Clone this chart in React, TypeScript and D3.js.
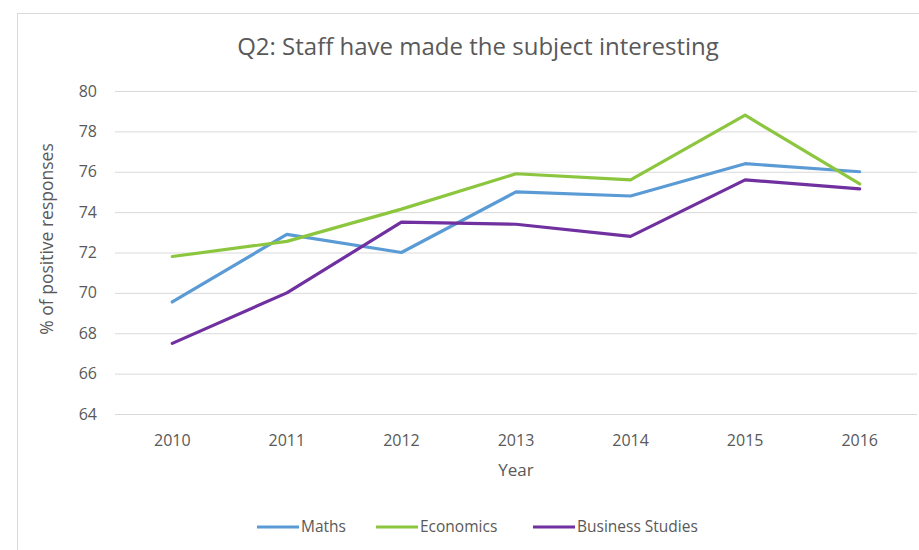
import React, { useEffect, useRef } from "react";
import * as d3 from "d3";

const years = ["2010", "2011", "2012", "2013", "2014", "2015", "2016"];
const maths = [69.55, 72.9, 72.0, 75.0, 74.8, 76.4, 76.0];
const economics = [71.8, 72.55, 74.15, 75.9, 75.6, 78.8, 75.4];
const business = [67.5, 70.0, 73.5, 73.4, 72.8, 75.6, 75.15];
const yTicks = [64, 66, 68, 70, 72, 74, 76, 78, 80];
const seriesNames = ["Maths", "Economics", "Business Studies"];
const seriesColors = ["#5B9BD5", "#8CC63F", "#7030A0"];

const W = 919;
const H = 550;
const FONT = "'Open Sans', 'Liberation Sans', sans-serif";

export default function App() {
  const ref = useRef<SVGSVGElement>(null);
  useEffect(() => {
    const svg = d3.select(ref.current);
    svg.selectAll("*").remove();
    svg.append("rect").attr("width", W).attr("height", H).attr("fill", "#fff");
    svg.append("rect").attr("x", 17.5).attr("y", 13.5).attr("width", W).attr("height", H)
      .attr("fill", "#fff").attr("stroke", "#d9d9d9").attr("stroke-width", 1);

    const x = d3.scaleBand<string>().domain(years).range([115, 917]);
    const y = d3.scaleLinear().domain([64, 80]).range([414, 91]);

    const g = svg.append("g");
    g.selectAll("line.grid").data(yTicks).enter().append("line")
      .attr("x1", 115).attr("x2", 917)
      .attr("y1", d => y(d) + 0.5).attr("y2", d => y(d) + 0.5)
      .attr("stroke", "#d9d9d9").attr("stroke-width", 1);

    g.selectAll("text.yt").data(yTicks).enter().append("text")
      .attr("x", 97).attr("y", d => y(d)).attr("dy", "0.35em")
      .attr("text-anchor", "end").attr("font-family", FONT).attr("font-size", 16)
      .attr("fill", "#595959").text(d => d);

    g.selectAll("text.xt").data(years).enter().append("text")
      .attr("x", d => x(d)! + x.bandwidth() / 2).attr("y", 440).attr("dy", "0.35em")
      .attr("text-anchor", "middle").attr("font-family", FONT).attr("font-size", 16)
      .attr("fill", "#595959").text(d => d);

    svg.append("text").attr("x", 478).attr("y", 47).attr("dy", "0.35em")
      .attr("text-anchor", "middle").attr("font-family", FONT).attr("font-size", 24)
      .attr("fill", "#595959").text("Q2: Staff have made the subject interesting");

    svg.append("text").attr("x", 516).attr("y", 470).attr("dy", "0.35em")
      .attr("text-anchor", "middle").attr("font-family", FONT).attr("font-size", 17)
      .attr("fill", "#595959").text("Year");

    svg.append("text").attr("transform", "translate(47,239) rotate(-90)").attr("dy", "0.35em")
      .attr("text-anchor", "middle").attr("font-family", FONT).attr("font-size", 17.5)
      .attr("fill", "#595959").text("% of positive responses");

    const data = [maths, economics, business];
    const line = d3.line<number>()
      .x((_, i) => x(years[i])! + x.bandwidth() / 2)
      .y(d => y(d));
    data.forEach((s, i) => {
      svg.append("path").datum(s).attr("d", line).attr("fill", "none")
        .attr("stroke", seriesColors[i]).attr("stroke-width", 3.2)
        .attr("stroke-linejoin", "round").attr("stroke-linecap", "round");
    });

    const legendX = [257, 376, 533];
    seriesNames.forEach((n, i) => {
      const lg = svg.append("g").attr("transform", `translate(${legendX[i]},527)`);
      lg.append("line").attr("x1", 0).attr("x2", 42).attr("y1", 0).attr("y2", 0)
        .attr("stroke", seriesColors[i]).attr("stroke-width", 3.2);
      lg.append("text").attr("x", 44).attr("y", 0).attr("dy", "0.35em")
        .attr("font-family", FONT).attr("font-size", 15.5).attr("fill", "#595959").text(n);
    });
  }, []);
  return (
    <svg ref={ref} width={W} height={H} style={{ position: "absolute", left: 0, top: 0 }} />
  );
}
